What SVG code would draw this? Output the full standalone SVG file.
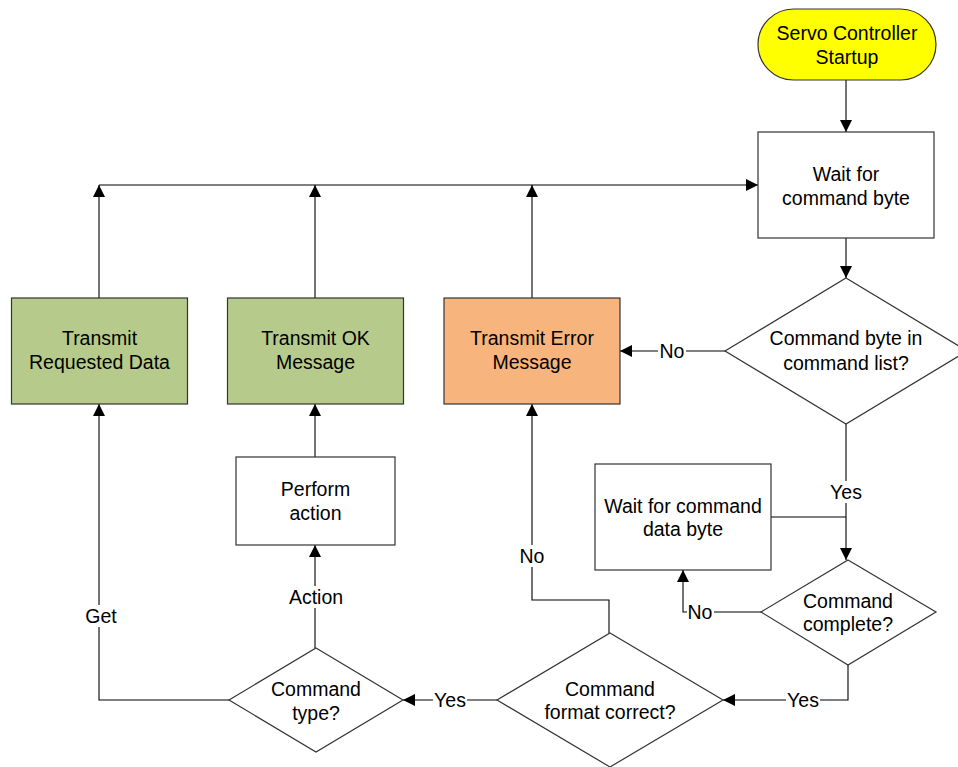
<svg xmlns="http://www.w3.org/2000/svg" width="958" height="767" viewBox="0 0 958 767">
<style>
text{font-family:"Liberation Sans",Arial,sans-serif;font-size:19.5px;fill:#000;text-anchor:middle}
.box{stroke:#333;stroke-width:1.2}
.line{fill:none;stroke:#000;stroke-width:1.1}
.lbl{fill:#fff;stroke:none}
</style>
<defs>
<marker id="ah" viewBox="0 0 10 10" refX="10" refY="5" markerWidth="12" markerHeight="12" markerUnits="userSpaceOnUse" orient="auto">
<path d="M0,0 L10,5 L0,10 z" fill="#000"/>
</marker>
</defs>
<rect width="958" height="767" fill="#fff"/>
<g id="connectors">
<path class="line" d="M846,80 V132" marker-end="url(#ah)"/>
<path class="line" d="M846,238 V278" marker-end="url(#ah)"/>
<path class="line" d="M725,351 H620" marker-end="url(#ah)"/>
<path class="line" d="M846,424 V560" marker-end="url(#ah)"/>
<path class="line" d="M771,517 H846"/>
<path class="line" d="M761,612 H683 V570" marker-end="url(#ah)"/>
<path class="line" d="M848,665 V700 H723" marker-end="url(#ah)"/>
<path class="line" d="M497,700 H403" marker-end="url(#ah)"/>
<path class="line" d="M609,633 V600 H532 V404" marker-end="url(#ah)"/>
<path class="line" d="M315,648 V545" marker-end="url(#ah)"/>
<path class="line" d="M315,457 V404" marker-end="url(#ah)"/>
<path class="line" d="M229,700 H99 V404" stroke-width="1.6" marker-end="url(#ah)"/>
<path class="line" d="M99,298 V185" marker-end="url(#ah)"/>
<path class="line" d="M315,298 V185" marker-end="url(#ah)"/>
<path class="line" d="M532,298 V185" marker-end="url(#ah)"/>
<path class="line" d="M99,185 H758" marker-end="url(#ah)"/>
<rect class="lbl" x="658" y="340" width="28" height="22"/><text x="672" y="358">No</text>
<rect class="lbl" x="829" y="481" width="34" height="22"/><text x="846" y="499">Yes</text>
<rect class="lbl" x="687" y="601" width="27" height="22"/><text x="700" y="619">No</text>
<rect class="lbl" x="786" y="689" width="34" height="22"/><text x="803" y="707">Yes</text>
<rect class="lbl" x="433" y="689" width="34" height="22"/><text x="450" y="707">Yes</text>
<rect class="lbl" x="518" y="545" width="28" height="22"/><text x="532" y="563">No</text>
<rect class="lbl" x="289" y="586" width="54" height="22"/><text x="316" y="604">Action</text>
<rect class="lbl" x="85" y="605" width="32" height="22"/><text x="101" y="623">Get</text>
</g>
<g id="startup">
<rect class="box" x="758" y="9" width="178" height="71" rx="35.5" fill="#ffff00"/>
<text x="847" y="40">Servo Controller</text>
<text x="847" y="64">Startup</text>
</g>
<g id="wait-command">
<rect class="box" x="758" y="132" width="176" height="106" fill="#fff"/>
<text x="846" y="181">Wait for</text>
<text x="846" y="205">command byte</text>
</g>
<g id="in-list">
<polygon class="box" points="846,278 967,351 846,424 725,351" fill="#fff"/>
<text x="846" y="345">Command byte in</text>
<text x="846" y="370">command list?</text>
</g>
<g id="transmit-data">
<rect class="box" x="11.5" y="298" width="176" height="106" fill="#b6cb8b"/>
<text x="99.5" y="345">Transmit</text>
<text x="99.5" y="369">Requested Data</text>
</g>
<g id="transmit-ok">
<rect class="box" x="227.5" y="298" width="176" height="106" fill="#b6cb8b"/>
<text x="315.5" y="345">Transmit OK</text>
<text x="315.5" y="369">Message</text>
</g>
<g id="transmit-error">
<rect class="box" x="444" y="298" width="176" height="106" fill="#f8b47d"/>
<text x="532" y="345">Transmit Error</text>
<text x="532" y="369">Message</text>
</g>
<g id="perform-action">
<rect class="box" x="236" y="457" width="159" height="88" fill="#fff"/>
<text x="315.5" y="496">Perform</text>
<text x="315.5" y="520">action</text>
</g>
<g id="wait-data">
<rect class="box" x="595" y="464" width="176" height="106" fill="#fff"/>
<text x="683" y="513">Wait for command</text>
<text x="683" y="536">data byte</text>
</g>
<g id="complete">
<polygon class="box" points="848,560 936,612 848,665 761,612" fill="#fff"/>
<text x="848" y="608">Command</text>
<text x="848" y="631">complete?</text>
</g>
<g id="format">
<polygon class="box" points="610,633 723,700 610,767 497,700" fill="#fff"/>
<text x="610" y="696">Command</text>
<text x="610" y="719">format correct?</text>
</g>
<g id="type">
<polygon class="box" points="316,648 403,700 316,752 229,700" fill="#fff"/>
<text x="316" y="696">Command</text>
<text x="316" y="720">type?</text>
</g>
</svg>
